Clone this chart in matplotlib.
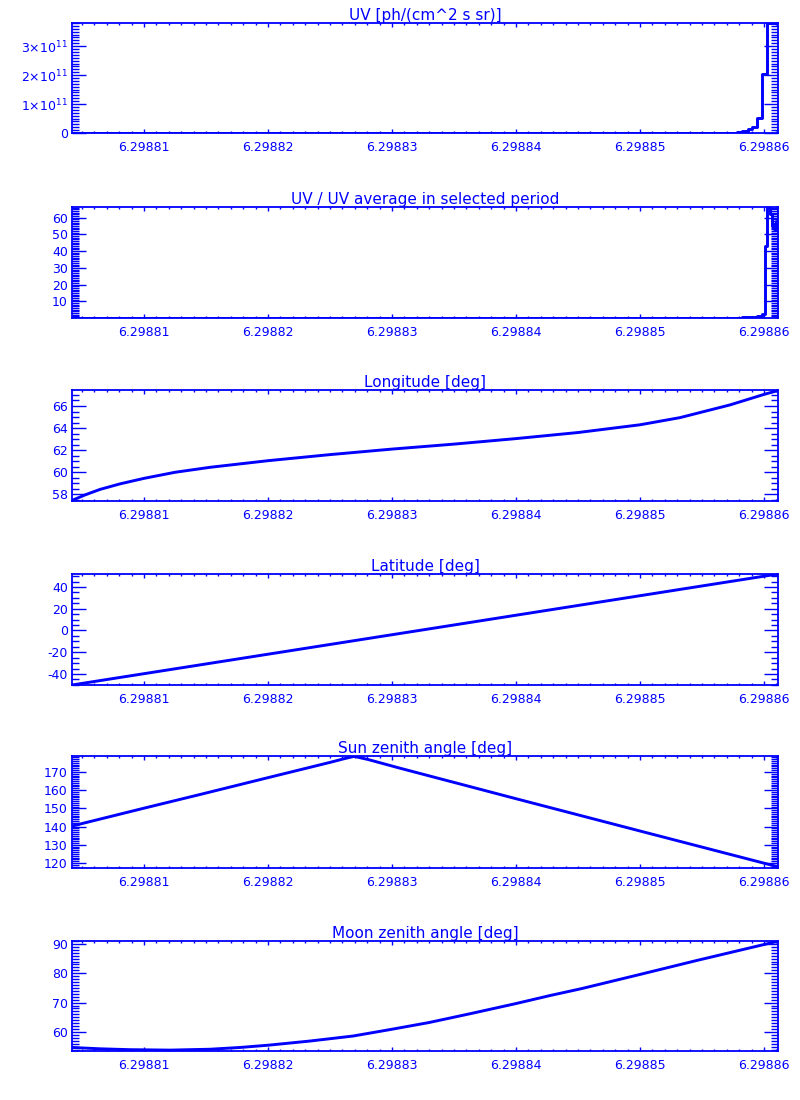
import matplotlib
matplotlib.use("Agg")
import matplotlib.pyplot as plt
from matplotlib.ticker import FixedLocator, MultipleLocator, FuncFormatter

plt.rcParams['font.family'] = ['DejaVu Sans']
plt.rcParams['mathtext.default'] = 'regular'

BLUE = '#0000ff'

# time axis limits and labelled ticks
xlim = (6.29880419, 6.29886113)
xticks = [6.29881, 6.29882, 6.29883, 6.29884, 6.29885, 6.29886]

# UV radiance (step plot)
uv_t = [6.29880419, 6.29885782, 6.29885823, 6.29885871, 6.29885903,
        6.29885944, 6.29885984, 6.29886024, 6.29886113]
uv_v = [0.0, 0.03e11, 0.08e11, 0.13e11, 0.2e11, 0.52e11, 2.03e11, 3.8e11, 3.8e11]

# UV / UV average
ratio_t = [6.29880419, 6.29885823, 6.29885903, 6.29885944, 6.29885984,
           6.29886008, 6.29886024, 6.29886048, 6.29886065, 6.29886081,
           6.29886097, 6.29886113]
ratio_v = [0.15, 0.5, 0.8, 1.3, 2.5, 43, 66.3, 62, 55, 53, 58, 64]

# longitude
lon_t = [6.29880419, 6.29880524, 6.29880645, 6.29880806, 6.29881000,
         6.29881250, 6.29881532, 6.29882000, 6.29882500, 6.29883000,
         6.29883500, 6.29884000, 6.29884500, 6.29885000, 6.29885323,
         6.29885726, 6.29886000, 6.29886113]
lon_v = [57.45, 57.95, 58.45, 58.95, 59.45, 60.0, 60.45, 61.05, 61.6, 62.1,
         62.55, 63.05, 63.6, 64.3, 64.95, 66.1, 67.05, 67.4]

# latitude
lat_t = [6.29880419, 6.29883218, 6.29886113]
lat_v = [-50.1, 0.0, 51.9]

# sun zenith angle
sun_t = [6.29880419, 6.29881000, 6.29881452, 6.29882016, 6.29882500,
         6.29882613, 6.29882694, 6.29882806, 6.29883065, 6.29884016,
         6.29885016, 6.29886048, 6.29886113]
sun_v = [140.3, 150.1, 157.6, 167.1, 175.2, 177.2, 178.5, 176.8, 172.0,
         155.0, 137.3, 119.1, 117.9]

# moon zenith angle
moon_t = [6.29880419, 6.29880645, 6.29880887, 6.29881210, 6.29881532,
          6.29881774, 6.29882008, 6.29882339, 6.29882685, 6.29882984,
          6.29883298, 6.29883629, 6.29883992, 6.29884274, 6.29884532,
          6.29885000, 6.29885452, 6.29886040, 6.29886113]
moon_v = [54.7, 54.25, 53.95, 53.8, 54.1, 54.7, 55.5, 56.9, 58.6, 60.8,
          63.2, 66.2, 69.6, 72.4, 74.8, 79.6, 84.3, 90.2, 90.9]


def sci(v, pos):
    if v == 0:
        return '0'
    return '%d×10$^{11}$' % round(v / 1e11)


def plain(v, pos):
    return '%d' % round(v)


panels = [
    ('UV [ph/(cm^2 s sr)]', uv_t, uv_v, (0, 3.8e11), [0, 1e11, 2e11, 3e11], 1e10, 'steps-post', sci),
    ('UV / UV average in selected period', ratio_t, ratio_v, (0.1, 66.3), [10, 20, 30, 40, 50, 60], 1, 'steps-post', plain),
    ('Longitude [deg]', lon_t, lon_v, (57.4, 67.45), [58, 60, 62, 64, 66], 0.5, 'default', plain),
    ('Latitude [deg]', lat_t, lat_v, (-50.1, 51.9), [-40, -20, 0, 20, 40], 5, 'default', plain),
    ('Sun zenith angle [deg]', sun_t, sun_v, (117.3, 178.7), [120, 130, 140, 150, 160, 170], 1, 'default', plain),
    ('Moon zenith angle [deg]', moon_t, moon_v, (53.5, 91.0), [60, 70, 80, 90], 1, 'default', plain),
]

# axes top/bottom in pixels
rows = [(23, 133), (207, 318), (390, 501), (574, 685), (756, 868), (941, 1051)]

fig = plt.figure(figsize=(8, 11), dpi=100)

for (title, t, v, ylim, yt, ymin_step, ds, fmt), (top, bot) in zip(panels, rows):
    ax = fig.add_axes([72 / 800, 1 - bot / 1100, 706 / 800, (bot - top) / 1100])
    ax.plot(t, v, color=BLUE, lw=2.1, drawstyle=ds)
    ax.set_xlim(*xlim)
    ax.set_ylim(*ylim)
    ax.xaxis.set_major_locator(FixedLocator(xticks))
    ax.xaxis.set_major_formatter(FuncFormatter(lambda x, p: '%.5f' % x))
    ax.xaxis.set_minor_locator(MultipleLocator(1e-6))
    ax.yaxis.set_major_locator(FixedLocator(yt))
    ax.yaxis.set_major_formatter(FuncFormatter(fmt))
    ax.yaxis.set_minor_locator(MultipleLocator(ymin_step))
    ax.tick_params(axis='both', which='both', direction='in', colors=BLUE,
                   top=True, right=True, width=1.0, labelsize=9)
    ax.tick_params(axis='x', which='major', length=3, pad=6)
    ax.tick_params(axis='x', which='minor', length=1.5)
    ax.tick_params(axis='y', which='major', length=10, pad=3)
    ax.tick_params(axis='y', which='minor', length=5)
    for s in ax.spines.values():
        s.set_color(BLUE)
        s.set_linewidth(1.3)
    ax.set_title(title, color=BLUE, fontsize=11, pad=2)

fig.savefig('out.png', dpi=100, facecolor='white')
